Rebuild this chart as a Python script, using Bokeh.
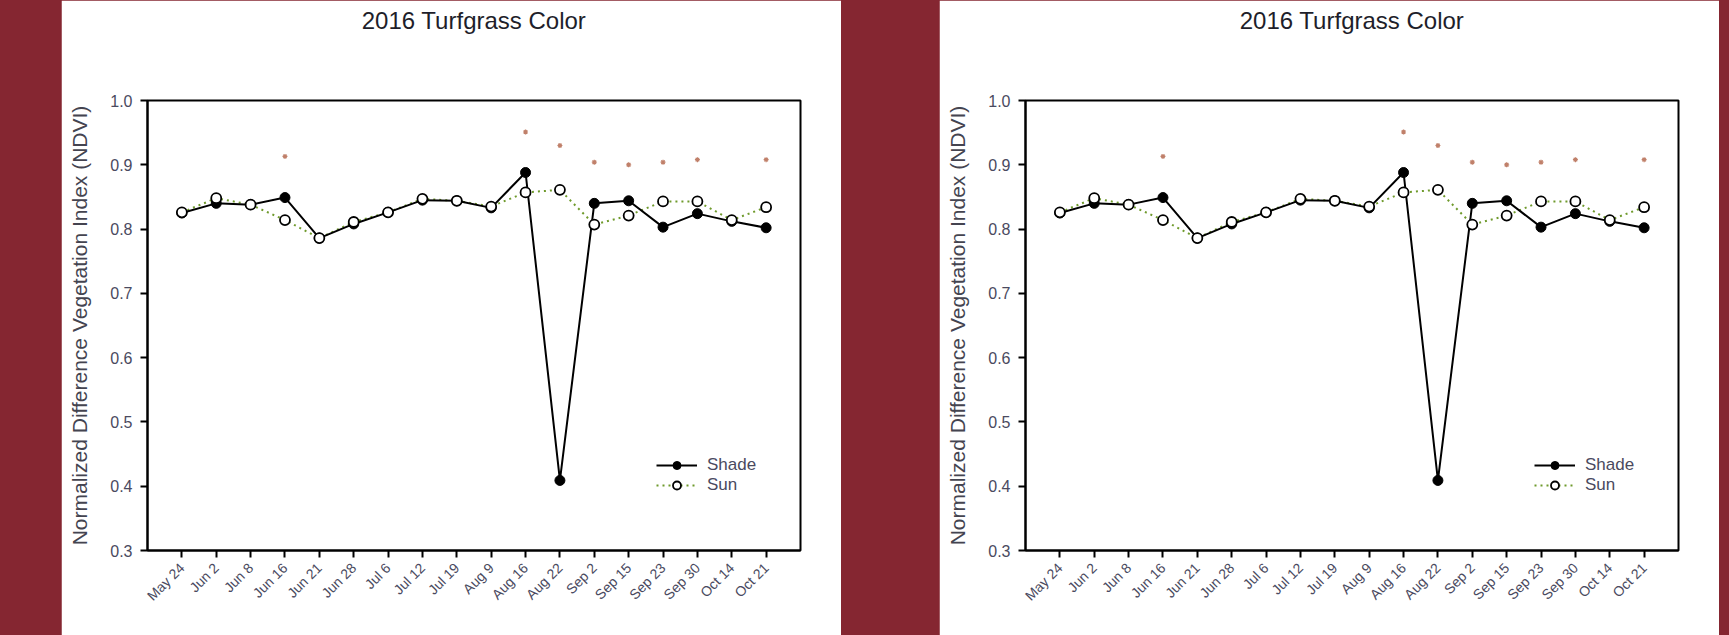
import math
import re
from bokeh.plotting import figure
from bokeh.models import (FixedTicker, PrintfTickFormatter, Range1d, Title, LinearAxis,
                          Legend, LegendItem, ColumnDataSource)
from bokeh.layouts import row
from bokeh.embed import file_html
from bokeh.resources import INLINE

# ---------------- data ----------------
dates = ["May 24", "Jun 2", "Jun 8", "Jun 16", "Jun 21", "Jun 28", "Jul 6",
         "Jul 12", "Jul 19", "Aug 9", "Aug 16", "Aug 22", "Sep 2", "Sep 15",
         "Sep 23", "Sep 30", "Oct 14", "Oct 21"]
shade = [0.825, 0.840, 0.838, 0.849, 0.786, 0.808, 0.826, 0.845, 0.844,
         0.833, 0.888, 0.409, 0.840, 0.844, 0.803, 0.824, 0.812, 0.802]
sun = [0.826, 0.848, 0.838, 0.814, 0.786, 0.811, 0.826, 0.847, 0.844,
       0.835, 0.857, 0.861, 0.807, 0.821, 0.843, 0.843, 0.814, 0.834]
sig_dates = ["Jun 16", "Aug 16", "Aug 22", "Sep 2", "Sep 15", "Sep 23",
             "Sep 30", "Oct 21"]
sig_y = [0.913, 0.951, 0.930, 0.904, 0.900, 0.904, 0.908, 0.908]
y_ticks = [0.3, 0.4, 0.5, 0.6, 0.7, 0.8, 0.9, 1.0]
title_text = "2016 Turfgrass Color"
y_label = "Normalized Difference Vegetation Index (NDVI)"
series_names = ["Shade", "Sun"]

MAROON = "#852631"
FONT = "Liberation Sans"
GREEN = "#6f9a2c"
TXT = "#4a4a60"


def make_fig():
    x = list(range(len(dates)))
    src = ColumnDataSource(dict(x=x, shade=shade, sun=sun))
    sig_src = ColumnDataSource(dict(x=[dates.index(d) for d in sig_dates], y=sig_y))

    p = figure(width=780, height=635, output_backend="svg", toolbar_location=None,
               x_range=Range1d(-1, len(dates)), y_range=Range1d(y_ticks[0], y_ticks[-1]),
               min_border_left=86, min_border_right=41, min_border_top=100,
               min_border_bottom=85, title=None)
    p.background_fill_color = "white"
    p.border_fill_color = "white"
    p.outline_line_color = "black"
    p.outline_line_width = 2
    p.grid.visible = False

    xax = p.below[0]
    yax = p.left[0]

    # axes
    xax.ticker = FixedTicker(ticks=x)
    xax.major_label_overrides = {i: d for i, d in enumerate(dates)}
    xax.major_label_orientation = math.pi / 4
    yax.ticker = FixedTicker(ticks=y_ticks)
    yax.formatter = PrintfTickFormatter(format="%.1f")
    for ax in (xax, yax):
        ax.axis_line_color = "black"
        ax.axis_line_width = 2
        ax.major_tick_line_color = "black"
        ax.major_tick_line_width = 2
        ax.major_tick_out = 7
        ax.major_tick_in = 0
        ax.minor_tick_line_color = None
        ax.major_label_text_font = FONT
        ax.major_label_text_color = TXT
        ax.major_label_standoff = 8
    xax.major_label_text_font_size = "14px"
    yax.major_label_text_font_size = "16px"
    yax.axis_label = y_label
    yax.axis_label_text_font = FONT
    yax.axis_label_text_font_size = "21px"
    yax.axis_label_text_font_style = "normal"
    yax.axis_label_text_color = "#444450"
    yax.axis_label_standoff = 16

    # invisible spacer between frame and title (one unlabeled, uncoloured tick)
    spacer = LinearAxis(ticker=FixedTicker(ticks=[x[0]]), axis_line_color=None,
                        major_tick_line_color=None, minor_tick_line_color=None,
                        major_tick_out=64, major_tick_in=0, minor_tick_out=0,
                        major_label_standoff=0, major_label_text_font_size="1px",
                        major_label_overrides={x[0]: ""})
    p.add_layout(spacer, "above")
    p.add_layout(Title(text=title_text, align="center", text_font=FONT,
                       text_font_size="24px", text_font_style="normal",
                       text_color="#1e1e2a", standoff=6), "above")

    # series
    sun_line = p.line("x", "sun", source=src, line_color=GREEN, line_width=2,
                      line_dash="2 4")
    shade_line = p.line("x", "shade", source=src, line_color="black", line_width=2)
    shade_pts = p.scatter("x", "shade", source=src, marker="circle", size=10,
                          fill_color="black", line_color="black")
    sun_pts = p.scatter("x", "sun", source=src, marker="circle", size=10,
                        fill_color="white", line_color="black", line_width=1.8)
    p.scatter("x", "y", source=sig_src, marker="asterisk", size=5,
              line_color="#c0806a", line_width=1.2)

    legend = Legend(items=[LegendItem(label=series_names[0], renderers=[shade_line, shade_pts]),
                           LegendItem(label=series_names[1], renderers=[sun_line, sun_pts])],
                    location=(509, 55), glyph_width=41, glyph_height=20,
                    label_height=20, label_standoff=10, padding=0, margin=0,
                    spacing=0, border_line_color=None, background_fill_alpha=0,
                    label_text_font=FONT, label_text_font_size="17px",
                    label_text_color=TXT)
    p.add_layout(legend, "center")
    return p


f1 = make_fig()
f2 = make_fig()
f1.margin = (0, 0, 0, 61)
f2.margin = (0, 0, 0, 98)
layout = row(f1, f2)

html = file_html(layout, INLINE)
style = "<style>html, body {margin:0 !important; padding:0; background-color:%s !important; overflow:hidden;}</style>" % MAROON
html = html.replace("</head>", style + "</head>", 1)
html = re.sub(r"<body[^>]*>", '<body style="margin:0;background-color:%s;">' % MAROON, html, count=1)
open("out.html", "w").write(html)
